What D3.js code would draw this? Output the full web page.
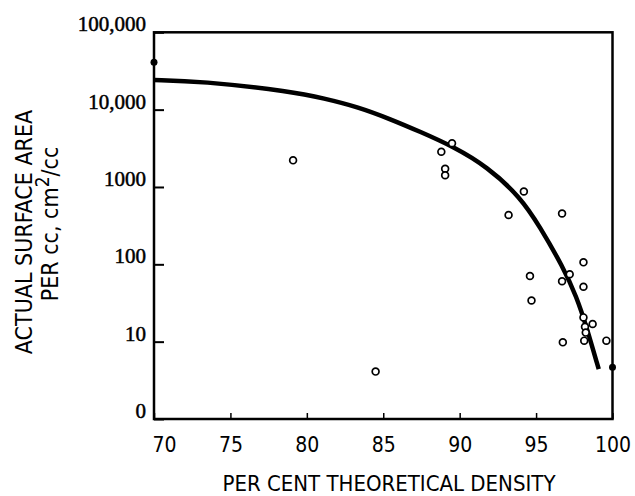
<!DOCTYPE html>
<html>
<head>
<meta charset="utf-8">
<script src="https://cdn.jsdelivr.net/npm/d3@7"></script>
<style>
  html, body { margin: 0; padding: 0; background: #fff; }
  svg { display: block; }
</style>
</head>
<body>
<svg id="chart" width="635" height="496"></svg>
<script>
// Data
const xTicks = [70, 75, 80, 85, 90, 95, 100];
const yTicks = [1, 10, 100, 1000, 10000, 100000];
const yTickLabels = ['0', '10', '100', '1000', '10,000', '100,000'];

// measured samples (open circles)
const samplesX = [79.1, 84.5, 88.8, 89.5, 89.05, 89.05, 94.2, 93.2, 96.7, 98.1, 94.6, 97.2, 96.7, 98.1, 94.7, 98.1, 98.7, 98.2, 98.25, 96.75, 98.15, 99.6];
const samplesY = [2210, 4.1, 2860, 3670, 1720, 1420, 874, 434, 454, 106, 70.6, 74.3, 60.3, 51.2, 34.1, 20.6, 16.9, 15.6, 13.1, 9.8, 10.3, 10.3];

// end points (filled dots on the axes)
const endX = [70, 100];
const endY = [40900, 4.66];

// fitted curve
const curveX = [70.0, 73.0, 79.1, 81.1, 83.3, 85.45, 87.4, 89.6, 91.8, 93.95, 95.25, 96.75, 97.65, 98.3, 99.1];
const curveY = [24200, 23450, 17060, 14020, 10920, 7570, 5190, 3320, 1830, 749, 307, 93, 38.1, 15.6, 4.4];

const svg = d3.select('#chart');
const margin = { left: 154, top: 32.3, right: 612.5, bottom: 419 };

const x = d3.scaleLinear().domain([70, 100]).range([margin.left, margin.right]);
const y = d3.scaleLog().domain([1, 100000]).range([margin.bottom, margin.top]);

const sansFont = "'Liberation Sans Narrow', 'DejaVu Sans Condensed', 'Liberation Sans', sans-serif";
const serifFont = "'Liberation Serif', 'DejaVu Serif', serif";

// Frame
svg.append('rect')
    .attr('x', margin.left)
    .attr('y', margin.top)
    .attr('width', margin.right - margin.left)
    .attr('height', margin.bottom - margin.top)
    .attr('fill', 'none')
    .attr('stroke', '#000')
    .attr('stroke-width', 2.5);

// Y axis: ticks point inward, labels sit just above the tick
const yAxis = svg.append('g')
    .attr('transform', `translate(${margin.left},0)`)
    .call(d3.axisLeft(y).tickValues(yTicks).tickSize(-10).tickFormat((d, i) => yTickLabels[i]));
yAxis.select('.domain').remove();
yAxis.selectAll('.tick line').attr('stroke', '#000').attr('stroke-width', 2);
yAxis.selectAll('.tick text')
    .attr('x', -8)
    .attr('dy', -1.5)
    .attr('fill', '#000')
    .attr('stroke', '#000')
    .attr('stroke-width', 0.5)
    .style('font-family', serifFont)
    .style('font-size', '21px');

// X axis: short ticks pointing up
const xAxis = svg.append('g')
    .attr('transform', `translate(0,${margin.bottom})`)
    .call(d3.axisBottom(x).tickValues(xTicks).tickSize(-6).tickFormat(d3.format('d')));
xAxis.select('.domain').remove();
xAxis.selectAll('.tick line').attr('stroke', '#000').attr('stroke-width', 1.5);
xAxis.selectAll('.tick text')
    .attr('y', 33)
    .attr('dy', 0)
    .attr('dx', d => d === 70 ? 10 : 0)
    .attr('fill', '#000')
    .style('font-family', sansFont)
    .style('font-size', '21px');

// Fitted curve
const line = d3.line()
    .x(d => x(d[0]))
    .y(d => y(d[1]))
    .curve(d3.curveBasis);

svg.append('path')
    .datum(d3.zip(curveX, curveY))
    .attr('d', line)
    .attr('fill', 'none')
    .attr('stroke', '#000')
    .attr('stroke-width', 4.5);

// Open circles
svg.append('g')
    .selectAll('circle')
    .data(d3.zip(samplesX, samplesY))
    .join('circle')
    .attr('cx', d => x(d[0]))
    .attr('cy', d => y(d[1]))
    .attr('r', 3.4)
    .attr('fill', '#fff')
    .attr('stroke', '#000')
    .attr('stroke-width', 1.7);

// Filled dots on the frame
svg.append('g')
    .selectAll('circle')
    .data(d3.zip(endX, endY))
    .join('circle')
    .attr('cx', d => x(d[0]))
    .attr('cy', d => y(d[1]))
    .attr('r', 3.5)
    .attr('fill', '#000');

// Axis titles
svg.append('text')
    .attr('x', 389)
    .attr('y', 491)
    .attr('text-anchor', 'middle')
    .style('font-family', sansFont)
    .style('font-size', '22px')
    .text('PER CENT THEORETICAL DENSITY');

svg.append('text')
    .attr('transform', 'translate(32,232) rotate(-90)')
    .attr('text-anchor', 'middle')
    .style('font-family', sansFont)
    .style('font-size', '23px')
    .text('ACTUAL SURFACE AREA');

const t2 = svg.append('text')
    .attr('transform', 'translate(58,224) rotate(-90)')
    .attr('text-anchor', 'middle')
    .style('font-family', sansFont)
    .style('font-size', '23px');
t2.append('tspan').text('PER cc, cm');
t2.append('tspan').attr('dy', -9).style('font-size', '19px').text('2');
t2.append('tspan').attr('dy', 9).text('/cc');
</script>
</body>
</html>
